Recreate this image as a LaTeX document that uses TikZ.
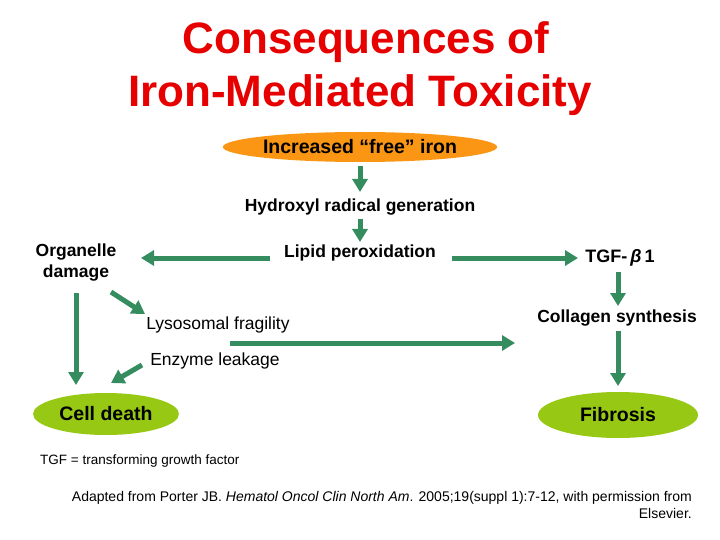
\documentclass[tikz,border=0pt]{standalone}
\usepackage{fontspec}
\setmainfont{Liberation Sans}
\usetikzlibrary{arrows.meta,shapes.geometric}
\definecolor{arr}{RGB}{52,140,95}
\definecolor{ttl}{RGB}{230,0,0}
\definecolor{lime}{RGB}{150,200,20}
\definecolor{org}{RGB}{250,150,20}
\begin{document}
\begin{tikzpicture}[x=1pt,y=-1pt,
  ar/.style={draw=arr,line width=5pt,-{Triangle[length=13pt,width=15pt]}},
  lab/.style={font=\fontsize{17.5}{21}\selectfont\bfseries,align=center,inner sep=1pt},
  ell/.style={ellipse,fill=lime,inner sep=0pt,font=\fontsize{19.5}{22}\selectfont\bfseries}]
\useasboundingbox (0,0) rectangle (720,540);
\node[text=ttl,font=\fontsize{44}{48}\selectfont\bfseries] (t1) at (366,42) {Consequences of};
\node[text=ttl,font=\fontsize{44}{48}\selectfont\bfseries] (t2) at (360,95) {Iron-Mediated Toxicity};
\node[ellipse,fill=org,minimum width=270pt,minimum height=30pt,inner sep=0pt,font=\fontsize{19.5}{22}\selectfont\bfseries] (iron) at (360,147) {Increased “free” iron};
\node[lab] (hyd) at (360,207) {Hydroxyl radical generation};
\node[lab] (lip) at (360,253) {Lipid peroxidation};
\node[lab] (org) at (76,263) {Organelle\\damage};
\node[lab,font=\fontsize{18}{20}\selectfont\bfseries] (tgf) at (620,258) {TGF-\,\textit{β}\,1};
\node[lab] (col) at (617,318) {Collagen synthesis};
\node[lab,font=\fontsize{17.5}{20}\selectfont] (lys) at (218,325) {Lysosomal fragility};
\node[lab,font=\fontsize{17.5}{20}\selectfont] (enz) at (215,361) {Enzyme leakage};
\node[ell,minimum width=146pt,minimum height=42pt] (cd) at (106,414) {Cell death};
\node[ell,minimum width=160pt,minimum height=46pt] (fib) at (618,415) {Fibrosis};
\node[anchor=west,font=\fontsize{13.5}{15}\selectfont,inner sep=0pt] (tgfn) at (40,461) {TGF = transforming growth factor};
\node[anchor=north east,align=right,font=\fontsize{14}{17.5}\selectfont,inner sep=0pt] (cit) at (692,491) {Adapted from Porter JB. \textit{Hematol Oncol Clin North Am}. 2005;19(suppl 1):7-12, with permission from\\Elsevier.};
\coordinate (a1) at (360,166); \coordinate (a2) at (360,192);
\draw[ar] (a1) -- (a2);
\coordinate (b1) at (360,219); \coordinate (b2) at (360,242);
\draw[ar] (b1) -- (b2);
\coordinate (c1) at (270,258); \coordinate (c2) at (141,258);
\draw[ar] (c1) -- (c2);
\coordinate (d1) at (452,258); \coordinate (d2) at (578,258);
\draw[ar] (d1) -- (d2);
\coordinate (e1) at (618,272); \coordinate (e2) at (618,306);
\draw[ar] (e1) -- (e2);
\coordinate (f1) at (618,331); \coordinate (f2) at (618,386);
\draw[ar] (f1) -- (f2);
\coordinate (g1) at (76,293); \coordinate (g2) at (76,385);
\draw[ar] (g1) -- (g2);
\coordinate (h1) at (111,292); \coordinate (h2) at (145,314);
\draw[ar] (h1) -- (h2);
\coordinate (i1) at (230,343); \coordinate (i2) at (515,343);
\draw[ar] (i1) -- (i2);
\coordinate (j1) at (142,365); \coordinate (j2) at (111,383);
\draw[ar] (j1) -- (j2);
\end{tikzpicture}
\end{document}
